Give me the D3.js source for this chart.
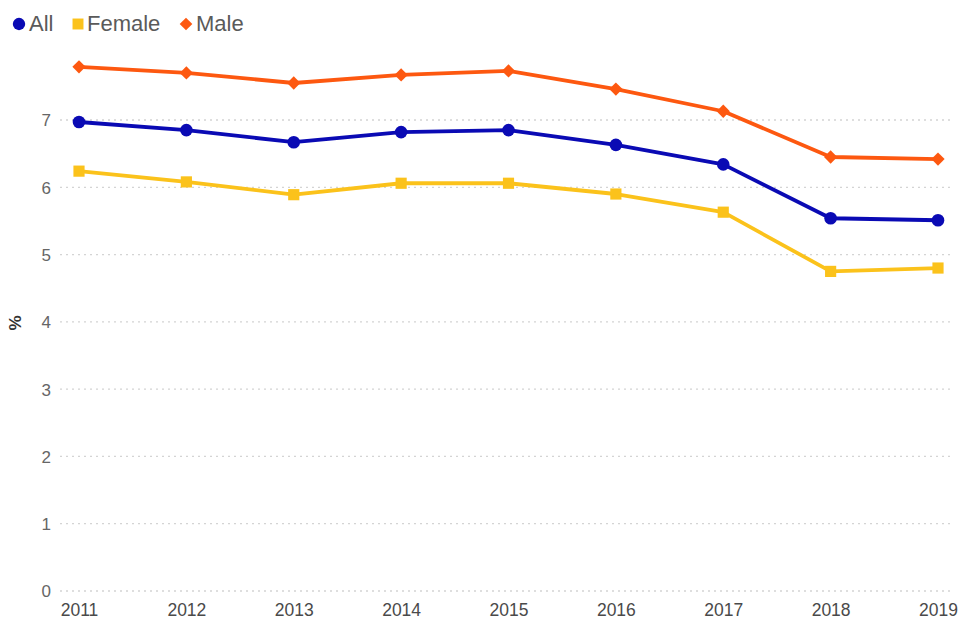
<!DOCTYPE html>
<html><head><meta charset="utf-8">
<script src="https://cdn.jsdelivr.net/npm/d3@7"></script>
<style>
body{margin:0;background:#fff;}
text{font-family:"Liberation Sans",Arial,sans-serif;}
</style></head>
<body><svg id="c" width="962" height="619"></svg>
<script>
const years = ["2011","2012","2013","2014","2015","2016","2017","2018","2019"];
const allValues = [6.97,6.85,6.67,6.82,6.85,6.63,6.34,5.54,5.51];
const femaleValues = [6.24,6.08,5.89,6.06,6.06,5.90,5.63,4.75,4.80];
const maleValues = [7.79,7.70,7.55,7.67,7.73,7.46,7.13,6.45,6.42];
const yTicks = [0,1,2,3,4,5,6,7];
const seriesNames = ["All","Female","Male"];

const colors = {All:"#0a0ab4", Female:"#fbc21b", Male:"#fd5810"};
const shapes = {All:d3.symbolCircle, Female:d3.symbolSquare, Male:d3.symbolSquare};
const sizes = {All:125, Female:125, Male:88};
const rot = {All:0, Female:0, Male:45};
const series = [
  {name:"All", values:allValues},
  {name:"Female", values:femaleValues},
  {name:"Male", values:maleValues}
];

const svg = d3.select("#c");
const x = d3.scalePoint().domain(years).range([79, 938]);
const y = d3.scaleLinear().domain([0,7]).range([591,120]);

// gridlines
svg.append("g").selectAll("line").data(yTicks).join("line")
  .attr("x1",60).attr("x2",952)
  .attr("y1",d=>y(d)).attr("y2",d=>y(d))
  .attr("stroke","#d4d4d4").attr("stroke-width",1.3)
  .attr("stroke-dasharray","2,4");

// y axis labels
const yAxis = d3.axisLeft(y).tickValues(yTicks).tickSize(0).tickPadding(0).tickFormat(d3.format("d"));
const ya = svg.append("g").attr("transform","translate(51,0)").call(yAxis);
ya.select(".domain").remove();
ya.selectAll("text").attr("font-size",17).attr("fill","#666").attr("font-family","Liberation Sans, Arial, sans-serif").attr("dy","0.35em");

// x axis labels
const xAxis = d3.axisBottom(x).tickSize(0).tickPadding(0);
const xa = svg.append("g").attr("transform","translate(0,599)").call(xAxis);
xa.select(".domain").remove();
xa.selectAll("text").attr("font-size",17.5).attr("fill","#4a4a4a").attr("font-family","Liberation Sans, Arial, sans-serif").attr("dy","0.95em");

// y title
svg.append("text").attr("transform","translate(21,323) rotate(-90)")
  .attr("text-anchor","middle").attr("font-size",17).attr("font-weight","bold")
  .attr("fill","#333").text("%");

// lines
const line = d3.line().x((d,i)=>x(years[i])).y(d=>y(d));
series.forEach(s=>{
  svg.append("path").datum(s.values).attr("d",line)
    .attr("fill","none").attr("stroke",colors[s.name]).attr("stroke-width",3.8)
    .attr("stroke-linejoin","round");
});
series.forEach(s=>{
  svg.append("g").selectAll("path").data(s.values).join("path")
    .attr("transform",(d,i)=>`translate(${x(years[i])},${y(d)}) rotate(${rot[s.name]})`)
    .attr("d",d3.symbol().type(shapes[s.name]).size(sizes[s.name]))
    .attr("fill",colors[s.name]);
});

// legend
const legendX = [19, 78, 186];
const lg = svg.append("g");
seriesNames.forEach((n,i)=>{
  lg.append("path").attr("transform",`translate(${legendX[i]},24) rotate(${rot[n]})`)
    .attr("d",d3.symbol().type(shapes[n]).size(n==="Male"?80:120)).attr("fill",colors[n]);
  lg.append("text").attr("x",legendX[i]+(n==="Female"?9:10)).attr("y",31).attr("font-size",22)
    .attr("fill","#5a5a5a").text(n);
});
</script></body></html>
